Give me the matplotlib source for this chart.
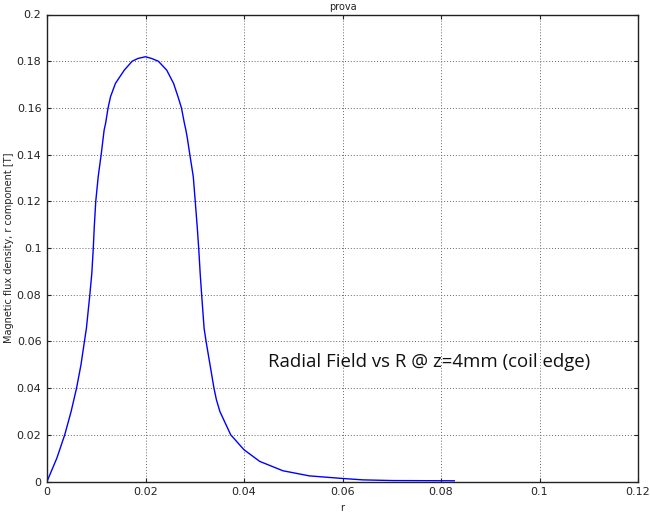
import numpy as np
import matplotlib
matplotlib.use("Agg")
import matplotlib.pyplot as plt

# radial field values
r_vals = [0.0, 0.0020, 0.0036, 0.0049, 0.0060, 0.0069, 0.0076, 0.0080, 0.0087,
          0.0091, 0.0094, 0.0096, 0.0099, 0.0104, 0.0110, 0.0116, 0.0119, 0.0124,
          0.0129, 0.0139, 0.0157, 0.0173, 0.0185, 0.0200, 0.0212, 0.0226, 0.0243,
          0.0257, 0.0266, 0.0273, 0.0279, 0.0282, 0.0285, 0.0290, 0.0297, 0.0301,
          0.0305, 0.0308, 0.0311, 0.0314, 0.0319, 0.0323, 0.0331, 0.0339, 0.0344,
          0.0351, 0.0373, 0.0400, 0.0432, 0.0479, 0.0533, 0.0600, 0.0641, 0.0702,
          0.0827]
b_vals = [0.0, 0.010, 0.020, 0.030, 0.040, 0.050, 0.060, 0.0656, 0.080,
          0.0892, 0.100, 0.1091, 0.120, 0.1306, 0.140, 0.1505, 0.1534, 0.160,
          0.1648, 0.1705, 0.1762, 0.180, 0.1812, 0.1819, 0.1812, 0.180, 0.1762,
          0.1705, 0.1648, 0.160, 0.1534, 0.1505, 0.147, 0.140, 0.1306, 0.120,
          0.1091, 0.100, 0.0892, 0.080, 0.0656, 0.060, 0.050, 0.040, 0.035,
          0.030, 0.020, 0.0136, 0.0086, 0.0046, 0.0024, 0.0013, 0.0007, 0.0004,
          0.0003]

x_ticks = [0, 0.02, 0.04, 0.06, 0.08, 0.1, 0.12]
x_labels = ["0", "0.02", "0.04", "0.06", "0.08", "0.1", "0.12"]
y_ticks = [0, 0.02, 0.04, 0.06, 0.08, 0.1, 0.12, 0.14, 0.16, 0.18, 0.2]
y_labels = ["0", "0.02", "0.04", "0.06", "0.08", "0.1", "0.12", "0.14", "0.16", "0.18", "0.2"]

fig = plt.figure(figsize=(6.5, 5.19), dpi=100)
ax = fig.add_axes([47 / 650, 1 - 481.5 / 519, (638 - 47) / 650, (481.5 - 14.5) / 519])

ax.plot(r_vals, b_vals, color="#0000ff", linewidth=1.0)

ax.set_xlim(0, 0.12)
ax.set_ylim(0, 0.2)
ax.set_xticks(x_ticks)
ax.set_xticklabels(x_labels)
ax.set_yticks(y_ticks)
ax.set_yticklabels(y_labels)
ax.tick_params(direction="in", length=3, width=0.8, top=True, right=True,
               labelsize=8, colors="#222222", pad=4)
ax.grid(True, color="#666666", linestyle=(0, (1, 2)), linewidth=0.7)
for s in ax.spines.values():
    s.set_color("#222222")
    s.set_linewidth(1.0)

ax.set_title("prova", fontsize=7, pad=3, color="#222222")
ax.set_xlabel("r", fontsize=7, color="#222222", labelpad=4)
ax.set_ylabel("Magnetic flux density, r component [T]", fontsize=7, color="#222222", labelpad=2)

ax.text(0.0449, 0.0511, "Radial Field vs R @ z=4mm (coil edge)", fontsize=13.4,
        family=["Open Sans", "DejaVu Sans"], color="#111111", va="center", ha="left")

fig.savefig("out.png", dpi=100)
